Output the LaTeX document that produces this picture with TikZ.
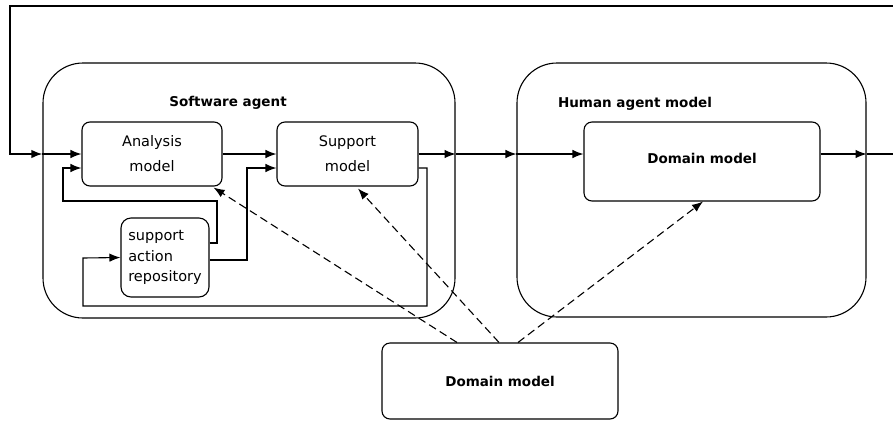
\documentclass[tikz,border=0pt]{standalone}
\usepackage{fontspec}
\setmainfont{DejaVu Sans}
\usetikzlibrary{arrows.meta}
\begin{document}
\begin{tikzpicture}[x=1pt,y=-1pt,
  box/.style={draw, line width=1.1pt, rounded corners=8pt, inner sep=0pt, align=center, font=\fontsize{14.5}{25}\selectfont},
  outerbox/.style={draw, line width=1.1pt, rounded corners=40pt, inner sep=0pt},
  titletext/.style={font=\fontsize{13.5}{16}\selectfont\bfseries},
  arr/.style={line width=1.1pt, -{Latex[length=11pt,width=8.5pt]}},
  link/.style={line width=1.1pt},
  dashlink/.style={arr, dash pattern=on 8pt off 4.5pt}]
\useasboundingbox (0,0) rectangle (893,421);
% containers
\node[outerbox, minimum width=412pt, minimum height=255pt] (sa) at (249,190.5) {};
\node[outerbox, minimum width=349pt, minimum height=254pt] (ha) at (691.5,190) {};
\node[titletext] (sat) at (228,103) {Software agent};
\node[titletext] (hat) at (635,104) {Human agent model};
% inner boxes
\node[box, minimum width=140pt, minimum height=64pt] (am) at (152,154) {Analysis\\model};
\node[box, minimum width=141pt, minimum height=64pt] (sm) at (347.5,154) {Support\\model};
\node[box, minimum width=236pt, minimum height=79pt, font=\fontsize{13.5}{16}\selectfont\bfseries, text depth=7pt] (dm) at (702,161.5) {Domain model};
\node[box, align=left, rounded corners=10pt, minimum width=88pt, minimum height=79pt, font=\fontsize{14.5}{20.5}\selectfont] (rep) at (165,257.5) {support\\action\\repository};
\node[box, minimum width=236pt, minimum height=76pt, font=\fontsize{13.5}{16}\selectfont\bfseries] (bdm) at (500,381) {Domain model};
% free ends
\coordinate (topR) at (893,6);
\coordinate (topL) at (10,6);
\coordinate (outR) at (893,154);
% feedback loop
\draw[arr, line width=1.7pt] (topR) -- (topL) -- (topL |- am.west) -- (sa.west |- am.west);
\draw[arr] (sa.west |- am.west) -- (am.west);
% main chain
\draw[arr] (am.east) -- (sm.west);
\draw[arr] (sm.east) -- (sa.east |- sm.east);
\draw[arr] (sa.east |- sm.east) -- (ha.west |- sm.east);
\draw[arr] (ha.west |- sm.east) -- (dm.west |- sm.east);
\draw[arr] (dm.east |- sm.east) -- (ha.east |- sm.east);
\draw[link] (ha.east |- sm.east) -- (outR);
% repository links
\draw[arr] ([yshift=14.5pt]rep.east) -| (217,201) -| (63,168) -- ([yshift=-14pt]am.west);
\draw[arr] ([yshift=-2.5pt]rep.east) -| (247,168) -- ([yshift=-14pt]sm.west);
\draw[arr] ([yshift=-14pt]sm.east) -| (427,306) -| (83,258) -- (rep.west);
% dashed links
\draw[dashlink] ([xshift=-43pt]bdm.north) -- ([xshift=-9pt,yshift=-1pt]am.south east);
\draw[dashlink] ([xshift=-1pt]bdm.north) -- ([xshift=10.5pt,yshift=-2pt]sm.south);
\draw[dashlink] ([xshift=18pt]bdm.north) -- ([xshift=1pt]dm.south);
\end{tikzpicture}
\end{document}
